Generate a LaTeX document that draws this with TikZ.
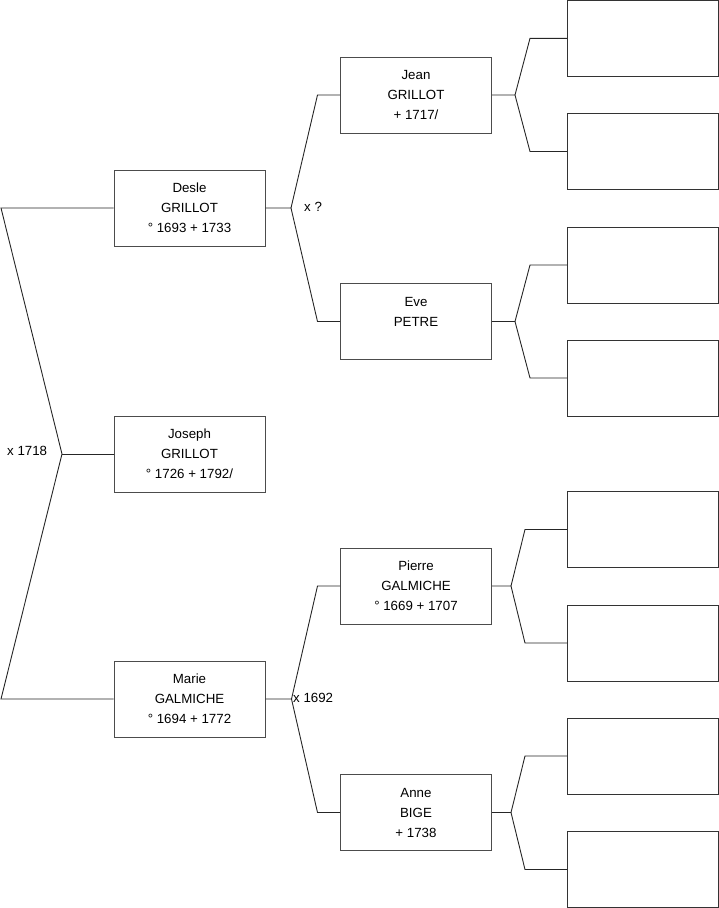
\documentclass[tikz,border=0pt]{standalone}
\usepackage{fontspec}
\setmainfont{Liberation Sans}
\begin{document}
\begin{tikzpicture}[x=1pt,y=-1pt,
  person/.style={draw=black!70,line width=1pt,minimum width=151pt,minimum height=76pt,inner sep=0pt,align=center,font=\fontsize{13.3}{20}\selectfont},
  empty/.style={draw=black!80,line width=1pt,minimum width=151pt,minimum height=76pt,inner sep=0pt},
  link/.style={draw=black!85,line width=0.9pt},
  lbl/.style={anchor=west,inner sep=0pt,font=\fontsize{13.3}{15}\selectfont}]
\useasboundingbox (0,0) rectangle (719,908);
% persons
\node[person] (desle) at (189.5,208) {Desle\\GRILLOT\\° 1693 + 1733};
\node[person] (joseph) at (189.5,454) {Joseph\\GRILLOT\\° 1726 + 1792/};
\node[person] (marie) at (189.5,699) {Marie\\GALMICHE\\° 1694 + 1772};
\node[person] (jean) at (416,95) {Jean\\GRILLOT\\ + 1717/};
\node[person] (eve) at (416,321.5) {Eve\\PETRE\\\mbox{}};
\node[person] (pierre) at (416,586) {Pierre\\GALMICHE\\° 1669 + 1707};
\node[person] (anne) at (416,812.5) {Anne\\BIGE\\ + 1738};
% empty ancestors
\node[empty] (r1) at (643,38.3) {};
\node[empty] (r2) at (643,151.5) {};
\node[empty] (r3) at (643,265) {};
\node[empty] (r4) at (643,378) {};
\node[empty] (r5) at (643,529.5) {};
\node[empty] (r6) at (643,643) {};
\node[empty] (r7) at (643,756) {};
\node[empty] (r8) at (643,869.5) {};
% pivots
\coordinate (ltop) at (1,208);
\coordinate (lbot) at (1,699);
\coordinate (p0) at (62,454);
\coordinate (p1) at (291,208);
\coordinate (p2) at (291.5,699);
\coordinate (pj) at (515,95);
\coordinate (pe) at (515,321.5);
\coordinate (pp) at (511,586);
\coordinate (pa) at (511,812.5);
% connectors
\draw[link] (desle.west) -- (ltop) -- (p0) -- (lbot) -- (marie.west);
\draw[link] (p0) -- (joseph.west);
\draw[link] (desle.east) -- (p1) -- ([xshift=-22.5pt]jean.west) -- (jean.west);
\draw[link] (p1) -- ([xshift=-22.5pt]eve.west) -- (eve.west);
\draw[link] (marie.east) -- (p2) -- ([xshift=-22.5pt]pierre.west) -- (pierre.west);
\draw[link] (p2) -- ([xshift=-22.5pt]anne.west) -- (anne.west);
\draw[link] (jean.east) -- (pj) -- ([xshift=-37pt]r1.west) -- (r1.west);
\draw[link] (pj) -- ([xshift=-37pt]r2.west) -- (r2.west);
\draw[link] (eve.east) -- (pe) -- ([xshift=-37pt]r3.west) -- (r3.west);
\draw[link] (pe) -- ([xshift=-37pt]r4.west) -- (r4.west);
\draw[link] (pierre.east) -- (pp) -- ([xshift=-42pt]r5.west) -- (r5.west);
\draw[link] (pp) -- ([xshift=-42pt]r6.west) -- (r6.west);
\draw[link] (anne.east) -- (pa) -- ([xshift=-42pt]r7.west) -- (r7.west);
\draw[link] (pa) -- ([xshift=-42pt]r8.west) -- (r8.west);
% marriage labels
\node[lbl] (m0) at (7,451) {x 1718};
\node[lbl] (m1) at (304,207) {x ?};
\node[lbl] (m2) at (293,698) {x 1692};
\end{tikzpicture}
\end{document}
